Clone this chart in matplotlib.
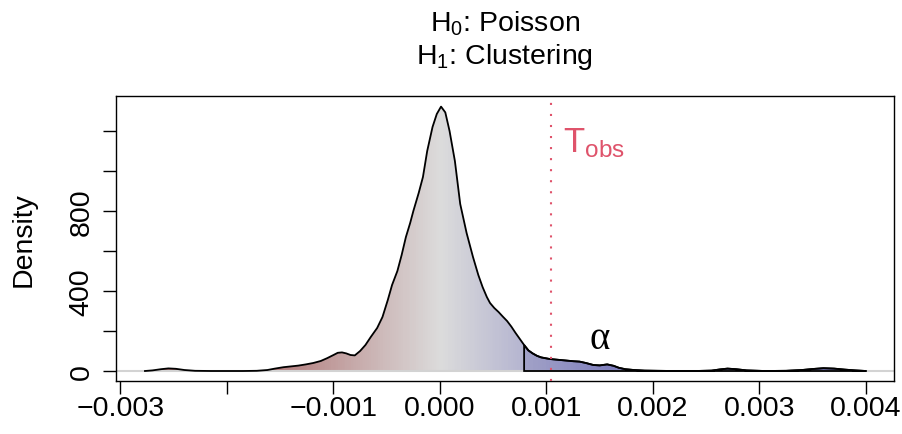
import numpy as np
import matplotlib
matplotlib.use("Agg")
import matplotlib.pyplot as plt
from matplotlib.colors import LinearSegmentedColormap, Normalize
from matplotlib.patches import Polygon

plt.rcParams['font.family'] = ['Liberation Sans', 'DejaVu Sans']
plt.rcParams['mathtext.fontset'] = 'custom'
plt.rcParams['mathtext.rm'] = 'Liberation Sans'
plt.rcParams['mathtext.it'] = 'Liberation Sans:italic'

# density estimate of simulated statistic (x in units of 1e-3)
x_k = [-2.77, -2.70, -2.62, -2.55, -2.48, -2.40, -2.30, -2.15, -2.0, -1.85,
       -1.72, -1.62, -1.55, -1.47, -1.40, -1.33, -1.26, -1.19, -1.12, -1.06,
       -1.00, -0.96, -0.92, -0.88, -0.84, -0.80, -0.75, -0.70, -0.65, -0.59,
       -0.54, -0.49, -0.45, -0.40, -0.36, -0.32, -0.28, -0.25, -0.20, -0.16,
       -0.12, -0.07, -0.03, 0.01, 0.05, 0.09, 0.14, 0.19, 0.25, 0.31,
       0.36, 0.40, 0.44, 0.47, 0.51, 0.55, 0.59, 0.63, 0.67, 0.71,
       0.75, 0.79, 0.83, 0.87, 0.91, 0.95, 1.03, 1.11, 1.19, 1.25,
       1.31, 1.37, 1.44, 1.50, 1.57, 1.63, 1.68, 1.74, 1.82, 1.92,
       2.04, 2.20, 2.40, 2.55, 2.63, 2.70, 2.78, 2.88, 3.05, 3.25,
       3.40, 3.50, 3.60, 3.70, 3.80, 3.90, 4.00]
density = [0, 3, 9, 13, 11, 5, 1, 0, 0, 0,
           1, 5, 12, 19, 23, 27, 33, 40, 50, 64,
           80, 91, 93, 88, 80, 78, 100, 130, 170, 215,
           270, 355, 430, 500, 580, 670, 740, 800, 890, 970,
           1100, 1220, 1285, 1322, 1293, 1200, 1050, 835, 690, 570,
           480, 420, 370, 340, 315, 295, 272, 250, 222, 190,
           160, 130, 103, 88, 76, 68, 60, 56, 52, 49,
           47, 40, 30, 28, 33, 26, 16, 9, 5, 2,
           1, 0, 0, 2, 8, 12, 9, 3, 0, 1,
           5, 10, 14, 12, 7, 3, 0]

t_obs = 1.04e-3
t_crit = 0.79e-3

x_ticks = [-0.003, -0.002, -0.001, 0.0, 0.001, 0.002, 0.003, 0.004]
x_labels = ['\u22120.003', '', '\u22120.001', '0.000', '0.001', '0.002', '0.003', '0.004']
y_ticks = [0, 200, 400, 600, 800, 1000, 1200]
y_labels = ['0', '', '400', '', '800', '', '']

x = np.array(x_k) * 1e-3
d = np.array(density, dtype=float)

fig = plt.figure(figsize=(9.02, 4.35), dpi=100)
ax = fig.add_axes([116/902, 1 - 382/435, (894 - 116)/902, (382 - 97)/435])
ax.set_xlim(-3.042e-3, 4.263e-3)
ax.set_ylim(-50, 1375)

# gradient fill under the curve
cmap = LinearSegmentedColormap.from_list(
    'rg', [(175/255, 115/255, 115/255), (220/255, 220/255, 220/255), (135/255, 135/255, 195/255)])
verts = np.column_stack([np.r_[x, x[::-1]], np.r_[d, np.zeros_like(d)]])
clip = Polygon(verts, closed=True, facecolor='none', edgecolor='none')
ax.add_patch(clip)
xs = np.linspace(x[0], x[-1], 400)
im = ax.imshow(xs[None, :], extent=[x[0], x[-1], 0, d.max()], aspect='auto',
               cmap=cmap, norm=Normalize(-1.7e-3, 1.7e-3), origin='lower',
               interpolation='nearest', zorder=1)
im.set_clip_path(clip)

ax.axhline(0, color='#D3D3D3', lw=1.5, zorder=2)
ax.plot(x, d, color='black', lw=1.3, zorder=3, solid_joinstyle='round')

# critical region
m = x >= t_crit - 1e-9
cx = x[m]
cd = d[m]
crit = Polygon(np.column_stack([np.r_[cx[0], cx, cx[-1]], np.r_[0, cd, 0]]),
               closed=True, facecolor=(60/255, 60/255, 150/255, 0.15),
               edgecolor='black', lw=1.3, zorder=4)
ax.add_patch(crit)

ax.axvline(t_obs, color='#DF536B', lw=1.5, linestyle=(0, (1, 4.3)), zorder=5)
ax.text(1.155e-3, 1100, r'T$_\mathrm{obs}$', color='#DF536B', fontsize=25,
        ha='left', va='baseline')
ax.text(1.5e-3, 115, '\u03b1', family='Liberation Serif', fontsize=28,
        ha='center', va='baseline')

ax.set_xticks(x_ticks)
ax.set_xticklabels(x_labels)
ax.set_yticks(y_ticks)
ax.set_yticklabels(y_labels, rotation=90, va='center')
ax.tick_params(axis='both', labelsize=20.5, length=9.4, width=1, direction='out')
ax.tick_params(axis='x', pad=0.5)
ax.tick_params(axis='y', pad=6)
for s in ax.spines.values():
    s.set_linewidth(1)

fig.text(37/902, 1 - 240/435, 'Density', rotation=90, fontsize=20.5,
         ha='right', va='center')
fig.text(505/902, 1 - 32/435, r'H$_\mathrm{0}$: Poisson', fontsize=20.5,
         ha='center', va='baseline')
fig.text(505/902, 1 - 64/435, r'H$_\mathrm{1}$: Clustering', fontsize=20.5,
         ha='center', va='baseline')

fig.savefig('out.png', dpi=100)
